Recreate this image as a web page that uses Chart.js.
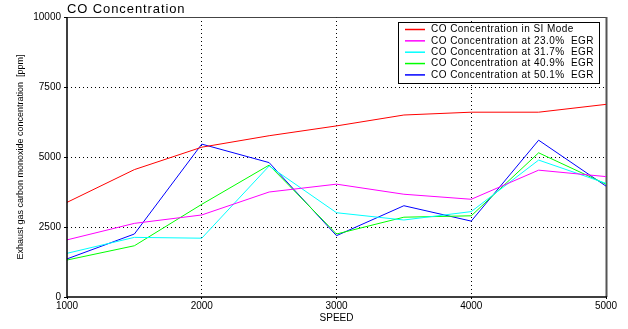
<!DOCTYPE html>
<html>
<head>
<meta charset="utf-8">
<script src="https://cdn.jsdelivr.net/npm/chart.js@4/dist/chart.umd.min.js"></script>
<style>
  html, body { margin: 0; padding: 0; background: #fff; }
  #wrap { width: 628px; height: 329px; position: relative; }
</style>
</head>
<body>
<div id="wrap"><canvas id="c"></canvas></div>
<script>
// Engine speed (rpm) on the x axis
const speeds = [1000, 1500, 2000, 2500, 3000, 3500, 4000, 4500, 5000];

// CO concentration [ppm] per operating mode
const coSI    = [3380, 4550, 5350, 5760, 6110, 6500, 6600, 6600, 6880];
const coEgr23 = [2040, 2630, 2930, 3750, 4030, 3670, 3490, 4530, 4300];
const coEgr32 = [1560, 2130, 2100, 4680, 3010, 2750, 3050, 4890, 4060];
const coEgr41 = [1320, 1830, 3310, 4710, 2250, 2850, 2900, 5150, 4030];
const coEgr50 = [1360, 2250, 5460, 4800, 2190, 3260, 2710, 5600, 3960];

const seriesLabels = [
  'CO Concentration in SI Mode',
  'CO Concentration at 23.0%  EGR',
  'CO Concentration at 31.7%  EGR',
  'CO Concentration at 40.9%  EGR',
  'CO Concentration at 50.1%  EGR'
];
const seriesColors = ['#ff0000', '#ff00ff', '#00ffff', '#00ff00', '#0000ff'];
const seriesValues = [coSI, coEgr23, coEgr32, coEgr41, coEgr50];

const yTicks = [0, 2500, 5000, 7500, 10000];
const xTicks = [1000, 2000, 3000, 4000, 5000];

const FONT = '"Liberation Sans", Arial, sans-serif';

const datasets = seriesValues.map((vals, i) => ({
  label: seriesLabels[i],
  data: speeds.map((s, j) => ({ x: s, y: vals[j] })),
  borderColor: seriesColors[i],
  backgroundColor: seriesColors[i],
  borderWidth: 1,
  pointRadius: 0,
  tension: 0,
  fill: false
}));

// Title, plot frame and boxed legend drawn on the canvas
const decorations = {
  id: 'decorations',
  beforeDatasetsDraw(chart) {
    const { ctx, chartArea: a } = chart;
    ctx.save();
    ctx.strokeStyle = '#444';
    ctx.lineWidth = 1;
    ctx.beginPath();
    ctx.moveTo(a.left, a.top + 0.5);
    ctx.lineTo(a.right, a.top + 0.5);
    ctx.stroke();
    ctx.strokeStyle = '#555';
    ctx.lineWidth = 2;
    ctx.beginPath();
    ctx.moveTo(a.right + 0.5, a.top);
    ctx.lineTo(a.right + 0.5, a.bottom);
    ctx.stroke();
    ctx.restore();
  },
  afterDraw(chart) {
    const { ctx, chartArea: a } = chart;
    ctx.save();
    // left and bottom axes
    ctx.strokeStyle = '#000';
    ctx.lineWidth = 1.5;
    ctx.beginPath();
    ctx.moveTo(a.left, a.top);
    ctx.lineTo(a.left, a.bottom);
    ctx.lineTo(a.right + 1, a.bottom);
    ctx.stroke();

    // chart title
    ctx.fillStyle = '#000';
    ctx.font = '13px ' + FONT;
    ctx.letterSpacing = '0.9px';
    ctx.textAlign = 'left';
    ctx.textBaseline = 'middle';
    ctx.fillText('CO Concentration', a.left, 9);

    // legend box
    const bx = a.right - 208, by = a.top + 5, bw = 201, bh = 61;
    ctx.fillStyle = '#fff';
    ctx.fillRect(bx, by, bw, bh);
    ctx.strokeStyle = '#000';
    ctx.lineWidth = 1;
    ctx.strokeRect(bx + 0.5, by + 0.5, bw, bh);
    ctx.font = '10px ' + FONT;
    ctx.letterSpacing = '0.45px';
    chart.data.datasets.forEach((ds, i) => {
      const y = by + 7.5 + i * 11.35;
      ctx.strokeStyle = ds.borderColor;
      ctx.lineWidth = 1.5;
      ctx.beginPath();
      ctx.moveTo(bx + 7, y);
      ctx.lineTo(bx + 27, y);
      ctx.stroke();
      ctx.fillStyle = '#000';
      ctx.fillText(ds.label, bx + 33, y);
    });
    ctx.restore();
  }
};

new Chart(document.getElementById('c'), {
  type: 'line',
  data: { datasets },
  plugins: [decorations],
  options: {
    responsive: true,
    maintainAspectRatio: false,
    animation: false,
    layout: { padding: { left: 0, right: 22, top: 17, bottom: 0 } },
    plugins: { legend: { display: false }, title: { display: false }, tooltip: { enabled: false } },
    scales: {
      x: {
        type: 'linear',
        min: 1000,
        max: 5000,
        afterBuildTicks(scale) { scale.ticks = xTicks.map(v => ({ value: v })); },
        afterFit(scale) { scale.height = 32; },
        grid: {
          color: (c) => (c.tick && (c.tick.value === 1000 || c.tick.value === 5000)) ? 'rgba(0,0,0,0)' : '#000',
          lineWidth: 1,
          drawTicks: true,
          tickLength: 2,
          tickColor: '#000',
          tickBorderDash: []
        },
        border: { display: false, dash: [1, 3] },
        ticks: {
          color: '#000',
          padding: 1,
          maxRotation: 0,
          font: { family: FONT, size: 10 },
          callback: (v) => String(v)
        },
        title: {
          display: true,
          text: 'SPEED',
          color: '#000',
          font: { family: FONT, size: 10 },
          padding: { top: 0, bottom: 5 }
        }
      },
      y: {
        min: 0,
        max: 10000,
        afterBuildTicks(scale) { scale.ticks = yTicks.map(v => ({ value: v })); },
        afterFit(scale) { scale.width = 67; },
        grid: {
          color: (c) => (c.tick && (c.tick.value === 0 || c.tick.value === 10000)) ? 'rgba(0,0,0,0)' : '#000',
          lineWidth: 1,
          drawTicks: true,
          tickLength: 3,
          tickColor: '#000',
          tickBorderDash: []
        },
        border: { display: false, dash: [1, 3] },
        ticks: {
          color: '#000',
          padding: 3,
          font: { family: FONT, size: 10 },
          callback: (v) => String(v)
        },
        title: {
          display: true,
          text: 'Exhaust gas carbon monoxide concentration  [ppm]',
          color: '#000',
          font: { family: FONT, size: 9 },
          padding: { top: 15, bottom: 0 }
        }
      }
    }
  }
});
</script>
</body>
</html>
